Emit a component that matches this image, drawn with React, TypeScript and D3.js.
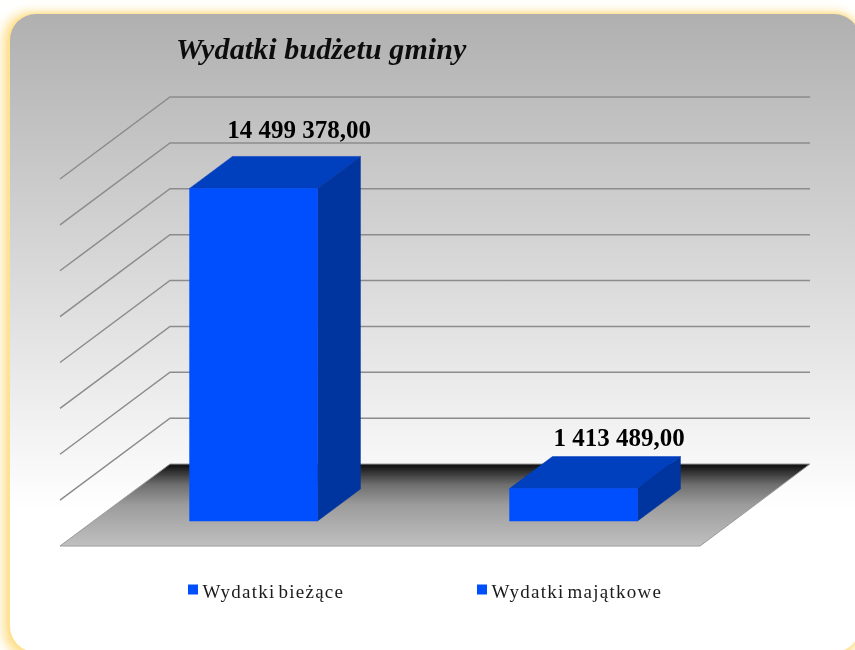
import React from 'react';
import * as d3 from 'd3';

const title = 'Wydatki budżetu gminy';
const categories = ['Wydatki bieżące', 'Wydatki majątkowe'];
const values = [14499378, 1413489];
const valueLabels = ['14 499 378,00', '1 413 489,00'];
const axisTicks = [0, 2000000, 4000000, 6000000, 8000000, 10000000, 12000000, 14000000, 16000000];

const width = 855;
const height = 650;

// back wall and depth of the 3D box
const wall = { left: 170, right: 810, top: 97, bottom: 464 };
const depthX = -110;
const depthY = 82;

const x = d3.scaleBand<string>()
  .domain(categories)
  .range([wall.left, wall.right])
  .paddingInner(0.6)
  .paddingOuter(0.3);

const y = d3.scaleLinear()
  .domain([0, 16000000])
  .range([wall.bottom, wall.top]);

// 0 is the back wall, 1 the front edge of the floor
const depth = d3.scaleLinear().domain([0, 1]);
const barFront = 0.695;
const barBack = 0.305;

const project = (px: number, py: number, d: number): [number, number] => [
  px + depth.range([0, depthX])(d),
  py + depth.range([0, depthY])(d),
];

const line = d3.line();
const poly = (pts: [number, number][]) => line(pts) + 'Z';

const legendX = [188, 477];
const labelLift = [18, 11];

const panel = { x: 10, y: 14, w: 850, h: 638, r: 26 };

export default function App() {
  const barW = x.bandwidth();
  return (
    <svg
      width={width}
      height={height}
      viewBox={`0 0 ${width} ${height}`}
      style={{ position: 'absolute', left: 0, top: 0, display: 'block' }}
    >
      <defs>
        <linearGradient id="panel" x1="0" y1="0" x2="0" y2="1">
          <stop offset="0" stopColor="#b0b0b0" />
          <stop offset="0.777" stopColor="#ffffff" />
          <stop offset="1" stopColor="#ffffff" />
        </linearGradient>
        <linearGradient id="floor" x1="0" y1="0" x2="0" y2="1">
          <stop offset="0" stopColor="#0c0c0c" />
          <stop offset="0.25" stopColor="#6e6e6e" />
          <stop offset="0.5" stopColor="#9c9c9c" />
          <stop offset="1" stopColor="#c0c0c0" />
        </linearGradient>
        <filter id="glowWide" filterUnits="userSpaceOnUse" x={-40} y={-40} width={960} height={740}>
          <feGaussianBlur stdDeviation={6} />
        </filter>
        <filter id="glowRim" filterUnits="userSpaceOnUse" x={-40} y={-40} width={960} height={740}>
          <feGaussianBlur stdDeviation={1.5} />
        </filter>
        <filter id="soft" filterUnits="userSpaceOnUse" x={0} y={0} width={width} height={height}>
          <feGaussianBlur stdDeviation={0.5} />
        </filter>
      </defs>

      <rect width={width} height={height} fill="#ffffff" />
      <rect
        x={panel.x - 6}
        y={panel.y - 1}
        width={panel.w + 6}
        height={panel.h + 6}
        rx={panel.r}
        fill="#ffdc80"
        filter="url(#glowWide)"
      />
      <rect
        x={panel.x}
        y={panel.y}
        width={panel.w}
        height={panel.h}
        rx={panel.r}
        fill="none"
        stroke="#ffe08a"
        strokeWidth={2}
        filter="url(#glowRim)"
      />
      <rect x={panel.x} y={panel.y} width={panel.w} height={panel.h} rx={panel.r} fill="url(#panel)" />

      <g filter="url(#soft)">
        <text
          x={176}
          y={59}
          fontFamily="Liberation Serif"
          fontStyle="italic"
          fontWeight="bold"
          fontSize={30}
          letterSpacing={0.1}
          fill="#111111"
        >
          {title}
        </text>

        {axisTicks.filter(t => t > 0).map(t => (
          <path
            key={t}
            d={line([project(wall.left, y(t), 1), [wall.left, y(t)], [wall.right, y(t)]]) as string}
            fill="none"
            stroke="#8c8c8c"
            strokeWidth={1.5}
          />
        ))}

        <path
          d={poly([
            [wall.left, y(0)],
            [wall.right, y(0)],
            project(wall.right, y(0), 1),
            project(wall.left, y(0), 1),
          ])}
          fill="url(#floor)"
          stroke="#9a9a9a"
          strokeWidth={1}
        />

        {categories.map((c, i) => {
          const x0 = x(c) as number;
          const x1 = x0 + barW;
          const top = y(values[i]);
          const base = y(0);
          const fTL = project(x0, top, barFront);
          const fTR = project(x1, top, barFront);
          const fBR = project(x1, base, barFront);
          const fBL = project(x0, base, barFront);
          const bTL = project(x0, top, barBack);
          const bTR = project(x1, top, barBack);
          const bBR = project(x1, base, barBack);
          return (
            <g key={c}>
              <path d={poly([fTL, fTR, bTR, bTL])} fill="#003fbf" stroke="#003fbf" strokeWidth={0.5} />
              <path d={poly([fTR, fBR, bBR, bTR])} fill="#00359f" stroke="#00359f" strokeWidth={0.5} />
              <path d={poly([fTL, fTR, fBR, fBL])} fill="#0050ff" stroke="#0050ff" strokeWidth={0.5} />
              <text
                x={(fTL[0] + bTR[0]) / 2 + 24}
                y={bTL[1] - labelLift[i]}
                textAnchor="middle"
                fontFamily="Liberation Serif"
                fontWeight="bold"
                fontSize={25}
                fill="#000000"
              >
                {valueLabels[i]}
              </text>
            </g>
          );
        })}

        {categories.map((c, i) => (
          <g key={c}>
            <rect x={legendX[i]} y={584.5} width={10} height={10} fill="#0050ff" />
            <text
              x={legendX[i] + 14.5}
              y={597.5}
              fontFamily="Liberation Serif"
              fontSize={19}
              letterSpacing={1.25}
              wordSpacing={-3}
              fill="#1a1a1a"
            >
              {c}
            </text>
          </g>
        ))}
      </g>
    </svg>
  );
}
